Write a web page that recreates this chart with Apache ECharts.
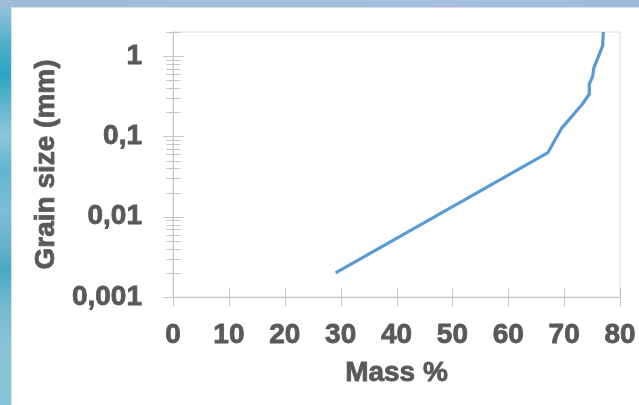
<!DOCTYPE html>
<html>
<head>
<meta charset="utf-8">
<script src="https://cdn.jsdelivr.net/npm/echarts@6/dist/echarts.min.js"></script>
<style>
  html, body { margin: 0; padding: 0; }
  body {
    width: 639px; height: 405px; overflow: hidden; position: relative;
    background: linear-gradient(to bottom, #a3bedb 0px, #8cc0d8 12px, #55b1cc 40px, #2aa5c2 75px, #58b3cc 100px, #8ec6dc 135px, #62b5cf 170px, #7cbfd6 210px, #62b0c9 250px, #48a8c3 270px, #78bcd2 310px, #8bc4d6 350px, #86c6d8 405px);
  }
  #topstrip { position: absolute; left: 0; top: 0; width: 639px; height: 7px;
    background: linear-gradient(to right, #9dbcd9, #a0c0dc 40%, #a6bfe2 70%, #9fbcdc); }
  #white { position: absolute; left: 11px; top: 7px; right: 0; bottom: 0; background: #ffffff;
    border-top: 1px solid #d8dde4; border-left: 1px solid #d8e2ea; }
  #chart { position: absolute; left: 0; top: 0; width: 639px; height: 405px; }
</style>
</head>
<body>
<div id="topstrip"></div>
<div id="white"></div>
<div id="chart"></div>
<script>
// ---- data ----
const massPct   = [29.1, 67.1, 69.5, 73.2, 74.5, 74.5, 75.1, 75.3, 76.9, 77.0];
const grainSize = [0.002, 0.063, 0.125, 0.25, 0.335, 0.45, 0.56, 0.71, 1.35, 2.0];

// ---- axis ticks ----
const xTicks = [0, 10, 20, 30, 40, 50, 60, 70, 80];
const yMajorTicks = [0.001, 0.01, 0.1, 1];
const yMinorTicks = [0.002, 0.003, 0.004, 0.005, 0.006, 0.007, 0.008, 0.009,
                     0.02, 0.03, 0.04, 0.05, 0.06, 0.07, 0.08, 0.09,
                     0.2, 0.3, 0.4, 0.5, 0.6, 0.7, 0.8, 0.9, 2];
const yMajorLabels = ['0,001', '0,01', '0,1', '1'];

const X_MIN = 0, X_MAX = 80, Y_MIN = 0.001, Y_MAX = 2;

// tick marks: [x, y, orientation(1=vertical), halfLength]
const tickData = [];
xTicks.forEach(v => tickData.push([v, Y_MIN, 1, 9]));
yMajorTicks.forEach(v => tickData.push([X_MIN, v, 0, 10]));
yMinorTicks.forEach(v => tickData.push([X_MIN, v, 0, 7]));

const lineData = massPct.map((m, i) => [m, grainSize[i]]);

const chart = echarts.init(document.getElementById('chart'), null, { renderer: 'canvas' });
const labelColor = '#595959';
const fontFamily = '"Liberation Sans", Arial, sans-serif';
const textStyle = {
  color: labelColor, fontSize: 28, fontWeight: 'bold', fontFamily: fontFamily,
  textBorderColor: labelColor, textBorderWidth: 0.8
};

chart.setOption({
  backgroundColor: 'transparent',
  animation: false,
  grid: { left: 173, right: 18, top: 32, bottom: 108, show: true, borderColor: '#dadada', borderWidth: 1, backgroundColor: 'transparent' },
  xAxis: {
    type: 'value', min: X_MIN, max: X_MAX, interval: 10,
    name: 'Mass %', nameLocation: 'middle', nameGap: 62,
    nameTextStyle: Object.assign({}, textStyle),
    axisLine: { show: true, lineStyle: { color: '#c6c6c6', width: 1 } },
    axisTick: { show: false },
    splitLine: { show: false },
    axisLabel: Object.assign({ margin: 24 }, textStyle)
  },
  yAxis: {
    type: 'log', logBase: 10, min: Y_MIN, max: Y_MAX,
    name: 'Grain size (mm)', nameLocation: 'middle', nameGap: 111, nameRotate: 90,
    nameTextStyle: Object.assign({}, textStyle),
    axisLine: { show: true, lineStyle: { color: '#c6c6c6', width: 1 } },
    axisTick: { show: false },
    splitLine: { show: false },
    axisLabel: Object.assign({
      margin: 31,
      formatter: function (v) {
        for (let i = 0; i < yMajorTicks.length; i++) {
          if (Math.abs(v - yMajorTicks[i]) / yMajorTicks[i] < 1e-6) return yMajorLabels[i];
        }
        return '';
      }
    }, textStyle)
  },
  series: [
    {
      type: 'custom', name: 'ticks', silent: true, clip: false, z: 1,
      data: tickData,
      renderItem: function (params, api) {
        const p = api.coord([api.value(0), api.value(1)]);
        const vert = api.value(2) === 1;
        const h = api.value(3);
        const x = Math.round(p[0]) + 0.5, y = Math.round(p[1]) + 0.5;
        const shape = vert ? { x1: x, y1: y - h, x2: x, y2: y + h }
                           : { x1: x - h, y1: y, x2: x + h, y2: y };
        return { type: 'line', shape: shape, style: { stroke: '#c6c6c6', lineWidth: 1 } };
      }
    },
    {
      type: 'line', name: 'Grain size', data: lineData, z: 3,
      showSymbol: false, symbol: 'none', smooth: false,
      lineStyle: { color: '#5b9bd5', width: 3.2 }
    }
  ]
});
</script>
</body>
</html>
